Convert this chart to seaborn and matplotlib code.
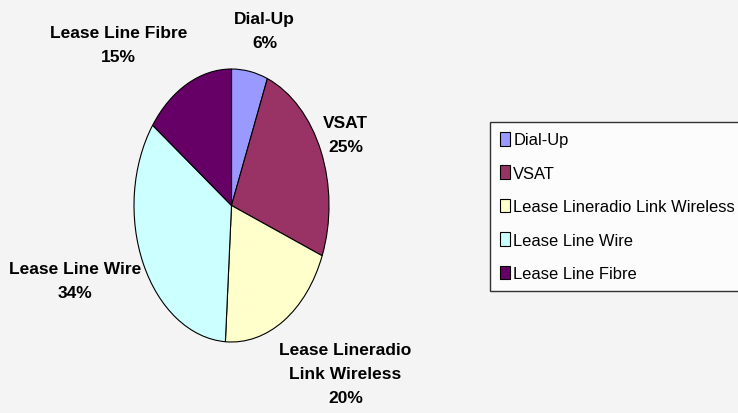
import matplotlib
matplotlib.use("Agg")
import matplotlib.pyplot as plt
import seaborn as sns

# connection types and their shares (%)
labels = ["Dial-Up", "VSAT", "Lease Lineradio Link Wireless", "Lease Line Wire", "Lease Line Fibre"]
shares = [6, 25, 20, 34, 15]
colors = ["#9999FF", "#993366", "#FFFFCC", "#CCFFFF", "#660066"]

# text shown next to each slice
slice_text = ["Dial-Up\n6%", "VSAT\n25%", "Lease Lineradio\nLink Wireless\n20%",
              "Lease Line Wire\n34%", "Lease Line Fibre\n15%"]

sns.set_theme(style="white")
plt.rcParams["font.family"] = ["Liberation Sans Narrow", "Liberation Sans", "DejaVu Sans"]
plt.rcParams["text.color"] = "black"

fig = plt.figure(figsize=(7.38, 4.14), dpi=100)
fig.patch.set_facecolor("#F4F4F4")

# pie axes sized to the (stretched) ellipse of the original
ax = fig.add_axes([134 / 738, (414 - 343) / 414, 195 / 738, 273 / 414])
ax.set_facecolor("none")
wedges, _ = ax.pie(
    shares,
    colors=colors,
    startangle=90,
    counterclock=False,
    radius=1,
    wedgeprops=dict(edgecolor="black", linewidth=0.8),
)
ax.set_aspect("auto")
ax.set_xlim(-1, 1)
ax.set_ylim(-1, 1)
ax.axis("off")

# label anchors (data coords of the pie axes)
label_pos = [(0.34, 1.28), (1.17, 0.52), (1.17, -1.23), (-1.6, -0.55), (-1.16, 1.18)]
for txt, (x, y) in zip(slice_text, label_pos):
    ax.text(x, y, txt, ha="center", va="center", fontsize=12.5, fontweight="bold",
            color="black", linespacing=1.75, clip_on=False)

leg = fig.legend(
    wedges, labels,
    loc="upper left",
    bbox_to_anchor=(490 / 738, 1 - 123 / 414),
    borderaxespad=0,
    frameon=True,
    fancybox=False,
    fontsize=11.9,
    handlelength=0.6,
    handleheight=0.9,
    handletextpad=0.2,
    labelspacing=1.08,
    borderpad=0.6,
)
for t in leg.get_texts():
    t.set_color("black")
leg.get_frame().set_edgecolor("black")
leg.get_frame().set_linewidth(1.0)
leg.get_frame().set_facecolor("white")

fig.savefig("out.png", dpi=100, facecolor=fig.get_facecolor())
